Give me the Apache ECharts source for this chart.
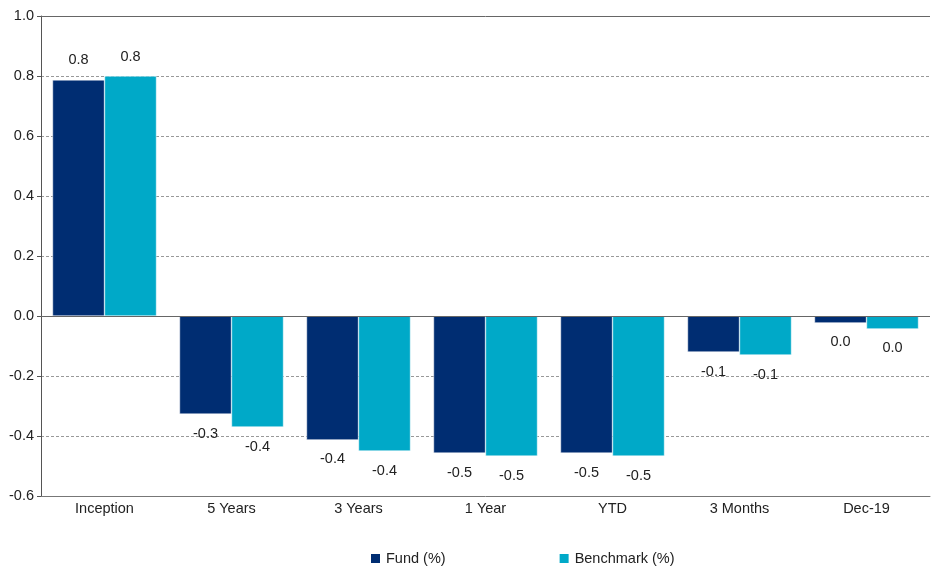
<!DOCTYPE html>
<html>
<head>
<meta charset="utf-8">
<script src="https://cdn.jsdelivr.net/npm/echarts@6/dist/echarts.min.js"></script>
<style>html,body{margin:0;padding:0;background:#fff}#c{width:931px;height:566px}</style>
</head>
<body>
<div id="c"></div>
<script>
var categories = ['Inception', '5 Years', '3 Years', '1 Year', 'YTD', '3 Months', 'Dec-19'];
var fundValues = [0.787, -0.327, -0.413, -0.457, -0.457, -0.12, -0.023];
var benchmarkValues = [0.80, -0.37, -0.45, -0.467, -0.467, -0.13, -0.043];
var yTicks = [-0.6, -0.4, -0.2, 0.0, 0.2, 0.4, 0.6, 0.8, 1.0];

var chart = echarts.init(document.getElementById('c'));
function fmt(v) {
  var s = (Math.round(v * 10) / 10).toFixed(1);
  if (s === '-0.0') s = '0.0';
  return s;
}
function mkData(arr) {
  return arr.map(function (v) {
    return {
      value: v,
      label: { position: v >= 0 ? 'top' : 'bottom' }
    };
  });
}
var font = 'Liberation Sans, Arial, sans-serif';
chart.setOption({
  animation: false,
  textStyle: { fontFamily: font },
  grid: { left: 41, right: 1, top: 16, bottom: 70, containLabel: false },
  legend: {
    left: 369, top: 551, padding: 0,
    itemWidth: 11, itemHeight: 11, itemGap: 112,
    icon: 'rect',
    textStyle: { fontSize: 14.5, color: '#222', fontFamily: font },
    data: ['Fund (%)', 'Benchmark (%)']
  },
  xAxis: {
    type: 'category',
    data: categories,
    position: 'bottom',
    axisLine: { onZero: false, lineStyle: { color: '#777', width: 1 } },
    axisTick: { show: false },
    axisLabel: { fontSize: 14.5, color: '#222', margin: 5, fontFamily: font }
  },
  yAxis: {
    type: 'value',
    min: yTicks[0], max: yTicks[yTicks.length - 1], interval: 0.2,
    axisLine: { show: true, lineStyle: { color: '#555' } },
    axisTick: { show: true, length: 4, lineStyle: { color: '#555' } },
    axisLabel: {
      fontSize: 14.5, color: '#222', margin: 7, fontFamily: font,
      formatter: function (v) { return fmt(v); }
    },
    splitLine: { show: true, lineStyle: { color: '#999', type: [3, 2], width: 1 } }
  },
  series: [{
    name: 'Fund (%)',
    type: 'bar',
    data: mkData(fundValues),
    barWidth: 52,
    barGap: '0%',
    itemStyle: { color: '#002D72', borderColor: '#ffffff', borderWidth: 0.5 },
    label: {
      show: true, distance: 12, fontSize: 14.5, color: '#222', fontFamily: font,
      formatter: function (p) { return fmt(p.value); }
    },
    markLine: {
      silent: true, symbol: 'none', label: { show: false },
      lineStyle: { color: '#666', type: 'solid', width: 1 },
      data: [{ yAxis: 0 }, { yAxis: yTicks[yTicks.length - 1] }]
    }
  }, {
    name: 'Benchmark (%)',
    type: 'bar',
    data: mkData(benchmarkValues),
    barWidth: 52,
    barGap: '0%',
    itemStyle: { color: '#00A9C8', borderColor: '#ffffff', borderWidth: 0.5 },
    label: {
      show: true, distance: 12, fontSize: 14.5, color: '#222', fontFamily: font,
      formatter: function (p) { return fmt(p.value); }
    }
  }]
});
</script>
</body>
</html>
